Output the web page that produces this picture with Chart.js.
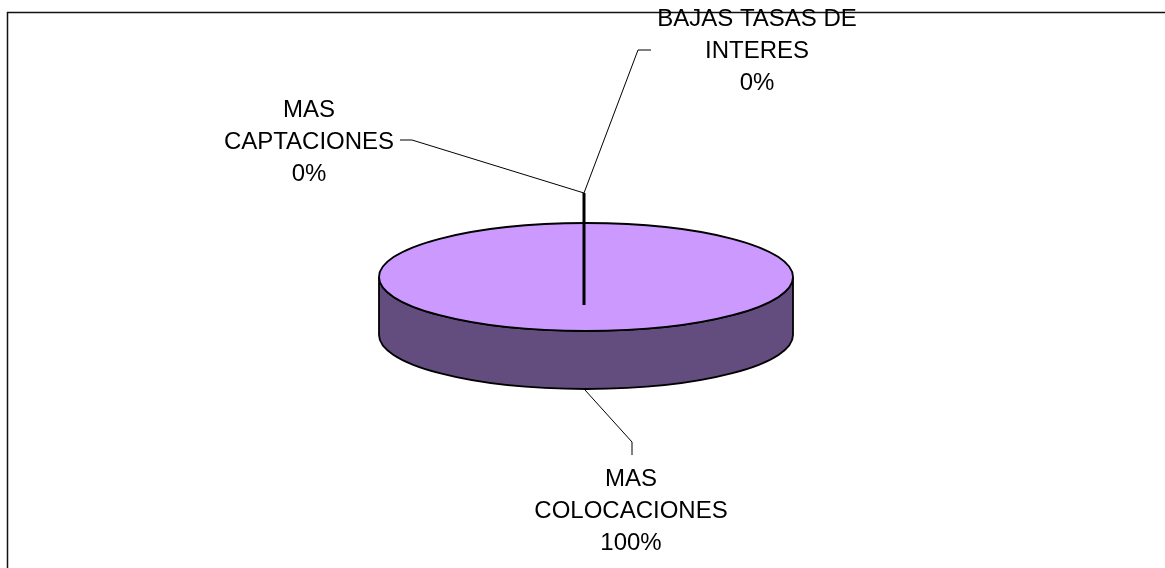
<!DOCTYPE html>
<html>
<head>
<meta charset="utf-8">
<title>Pie 3D</title>
<script src="https://cdn.jsdelivr.net/npm/chart.js@4/dist/chart.umd.min.js"></script>
<style>
  html, body { margin: 0; padding: 0; background: #fff; }
  canvas { display: block; }
</style>
</head>
<body>
<canvas id="pieChart" width="1165" height="568"></canvas>
<script>
// Categories (one array per label line) and values
const categories = [
    ['MAS', 'CAPTACIONES'],
    ['BAJAS TASAS DE', 'INTERES'],
    ['MAS', 'COLOCACIONES']
];
const values = [0, 0, 100];

// look of the 3D pie
const topColor = '#CC99FF';
const sideColor = '#624D7E';
const tilt = 54 / 207;   // vertical squash of the ellipse
const depth = 58;        // height of the side wall
const fontSpec = '24px "Liberation Sans", Arial, sans-serif';
const lineH = 32;

// label anchors relative to the pie centre (first baseline)
const labelSpots = [
    { dx: -277, dy: -160 },
    { dx: 171, dy: -251 },
    { dx: 45, dy: 209 }
];

function pct(i) {
    const total = values.reduce((a, b) => a + b, 0);
    return Math.round(values[i] / total * 100) + '%';
}

const frame = {
    id: 'frame',
    beforeDraw(chart) {
        const ctx = chart.ctx;
        ctx.save();
        ctx.strokeStyle = '#111';
        ctx.lineWidth = 1.5;
        ctx.beginPath();
        ctx.moveTo(7.5, chart.height);
        ctx.lineTo(7.5, 12.5);
        ctx.lineTo(chart.width, 12.5);
        ctx.stroke();
        ctx.restore();
    }
};

const pie3d = {
    id: 'pie3d',
    beforeDatasetsDraw(chart) {
        const ctx = chart.ctx;
        const meta = chart.getDatasetMeta(0);
        ctx.save();
        ctx.lineWidth = 1.8;
        ctx.strokeStyle = '#000';
        // side walls (front half only)
        meta.data.forEach(arc => {
            const p = arc.getProps(['x', 'y', 'startAngle', 'endAngle', 'outerRadius'], true);
            if (p.endAngle - p.startAngle <= 0) return;
            const ry = p.outerRadius * tilt;
            [0, 2 * Math.PI].forEach(off => {
                const s = Math.max(p.startAngle, off);
                const e = Math.min(p.endAngle, off + Math.PI);
                if (e <= s) return;
                ctx.beginPath();
                ctx.ellipse(p.x, p.y, p.outerRadius, ry, 0, s, e);
                ctx.ellipse(p.x, p.y + depth, p.outerRadius, ry, 0, e, s, true);
                ctx.closePath();
                ctx.fillStyle = sideColor;
                ctx.fill();
                ctx.stroke();
            });
        });
        // top faces
        meta.data.forEach(arc => {
            const p = arc.getProps(['x', 'y', 'startAngle', 'endAngle', 'outerRadius'], true);
            if (p.endAngle - p.startAngle <= 0) return;
            const ry = p.outerRadius * tilt;
            ctx.beginPath();
            if (p.endAngle - p.startAngle >= 2 * Math.PI - 1e-6) {
                ctx.ellipse(p.x, p.y, p.outerRadius, ry, 0, 0, 2 * Math.PI);
            } else {
                ctx.moveTo(p.x, p.y);
                ctx.ellipse(p.x, p.y, p.outerRadius, ry, 0, p.startAngle, p.endAngle);
                ctx.closePath();
            }
            ctx.fillStyle = topColor;
            ctx.fill();
            ctx.stroke();
        });
        ctx.restore();
        return false;
    },
    afterDraw(chart) {
        const ctx = chart.ctx;
        const arc = chart.getDatasetMeta(0).data[2];
        const cx = arc.x, cy = arc.y;
        ctx.save();
        // leader lines
        ctx.strokeStyle = '#000';
        ctx.lineWidth = 1;
        const jx = cx - 2, jy = cy - 84;
        ctx.beginPath();
        ctx.moveTo(cx - 186, cy - 137);
        ctx.lineTo(cx - 174, cy - 137);
        ctx.lineTo(jx, jy);
        ctx.lineTo(cx + 52, cy - 227);
        ctx.lineTo(cx + 65, cy - 227);
        ctx.moveTo(cx - 1, cy + 113);
        ctx.lineTo(cx + 46, cy + 165);
        ctx.lineTo(cx + 46, cy + 178);
        ctx.stroke();
        ctx.lineWidth = 3;
        ctx.beginPath();
        ctx.moveTo(jx, jy);
        ctx.lineTo(jx, cy + 28);
        ctx.stroke();
        // data labels
        ctx.fillStyle = '#000';
        ctx.font = fontSpec;
        ctx.textAlign = 'center';
        ctx.textBaseline = 'alphabetic';
        categories.forEach((lines, i) => {
            const spot = labelSpots[i];
            const all = lines.concat([pct(i)]);
            all.forEach((t, j) => {
                ctx.fillText(t, cx + spot.dx, cy + spot.dy + j * lineH);
            });
        });
        ctx.restore();
    }
};

const pieChart = new Chart(document.getElementById('pieChart'), {
    type: 'pie',
    data: {
        labels: categories,
        datasets: [{
            data: values,
            backgroundColor: topColor,
            borderWidth: 0
        }]
    },
    options: {
        responsive: false,
        animation: false,
        devicePixelRatio: 1,
        layout: { padding: { left: 379, right: 372, top: 70, bottom: 84 } },
        plugins: {
            legend: { display: false },
            tooltip: { enabled: false }
        }
    },
    plugins: [frame, pie3d]
});
</script>
</body>
</html>
